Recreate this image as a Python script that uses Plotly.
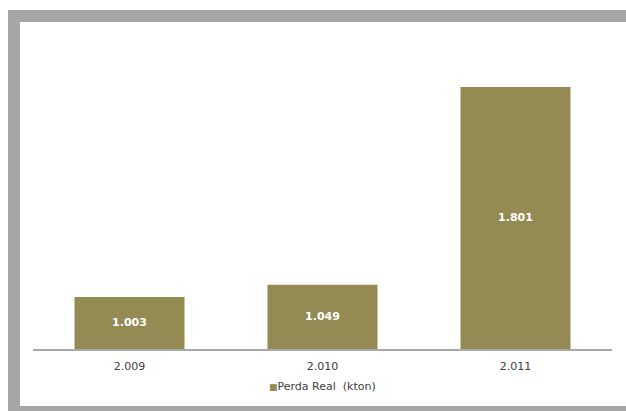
import plotly.graph_objects as go

categories = ["2.009", "2.010", "2.011"]
values = [1003, 1049, 1801]
value_labels = ["1.003", "1.049", "1.801"]
series_name = "Perda Real  (kton)"

W, H = 626, 411
ML, MR, MT, MB = 33, 14, 30, 62
PW, PH = W - ML - MR, H - MT - MB
Y_MIN, Y_MAX = 805, 2018

def px_x(px):
    return (px - ML) / PW

def px_y(py):
    return (H - MB - py) / PH

bar_color = "#948a54"
frame_color = "#a6a6a6"

fig = go.Figure()
fig.add_trace(go.Bar(
    x=categories, y=values, name=series_name,
    marker=dict(color=bar_color, line=dict(width=0)),
    showlegend=False, hoverinfo="x+y",
))
fig.add_trace(go.Scatter(
    x=categories, y=[(v + Y_MIN) / 2 for v in values], text=value_labels,
    mode="text", textposition="middle center",
    textfont=dict(family="DejaVu Sans", size=11, color="white", weight="bold"),
    showlegend=False, hoverinfo="skip",
))

shapes = [
    dict(type="rect", xref="paper", yref="paper", x0=px_x(8), x1=px_x(20), y0=px_y(411), y1=px_y(10),
         fillcolor=frame_color, line=dict(width=0), layer="above"),
    dict(type="rect", xref="paper", yref="paper", x0=px_x(8), x1=px_x(626), y0=px_y(22), y1=px_y(10),
         fillcolor=frame_color, line=dict(width=0), layer="above"),
    dict(type="rect", xref="paper", yref="paper", x0=px_x(8), x1=px_x(626), y0=px_y(411), y1=px_y(406),
         fillcolor=frame_color, line=dict(width=0), layer="above"),
]

fig.update_layout(
    width=W, height=H,
    margin=dict(l=ML, r=MR, t=MT, b=MB),
    paper_bgcolor="white", plot_bgcolor="white",
    bargap=0.43,
    shapes=shapes,
    xaxis=dict(showline=True, linecolor="#a8a8a8", linewidth=2, ticks="", showgrid=False,
               ticklabelstandoff=6,
               tickfont=dict(family="DejaVu Sans", size=11, color="#404040")),
    yaxis=dict(range=[Y_MIN, Y_MAX], visible=False, showgrid=False, zeroline=False),
    annotations=[dict(
        xref="paper", yref="paper", x=0.5, y=px_y(386), xanchor="center", yanchor="middle",
        showarrow=False,
        text=f"<span style='color:{bar_color};font-size:9px'>■</span>{series_name}",
        font=dict(family="DejaVu Sans", size=11, color="#404040"),
    )],
)

fig.write_html("out.html", config={"displayModeBar": False},
               post_script="document.body.style.margin='0';")
